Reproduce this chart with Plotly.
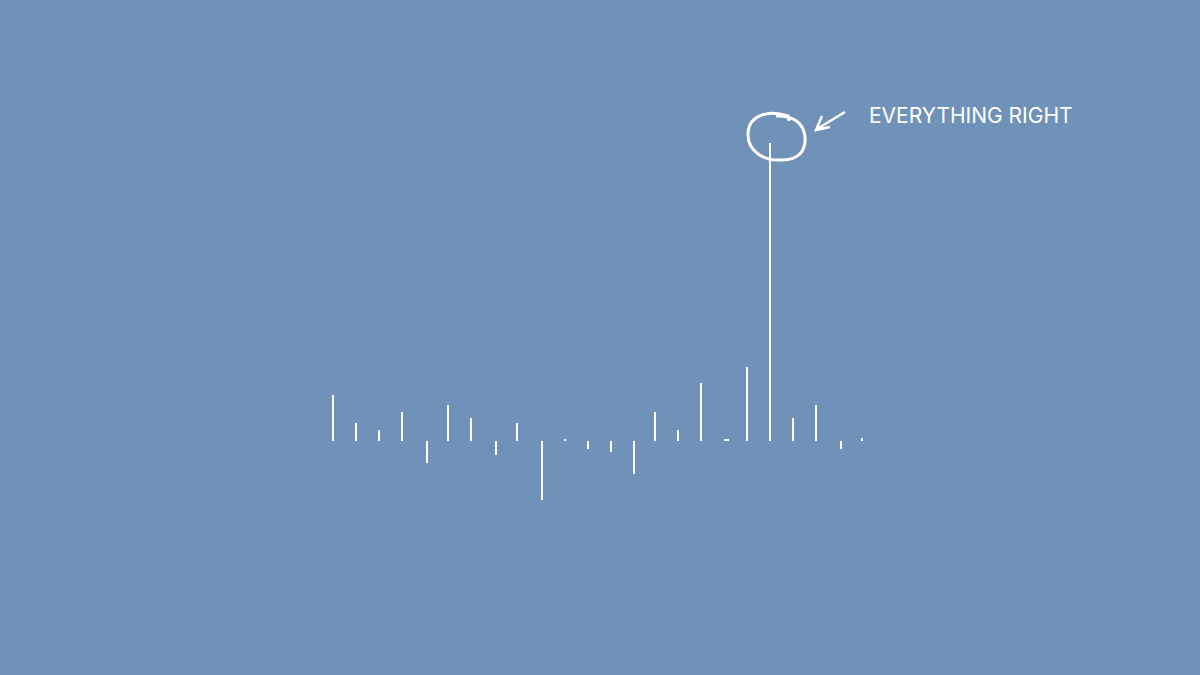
import plotly.graph_objects as go

# Data (bar heights in arbitrary units)
categories = list(range(24))
values = [45.7, 17.7, 10.7, 28.7, -22.0, 35.7, 22.7, -14.0, 17.7, -59.0, 1.7, -8.0,
          -11.0, -33.0, 28.7, 10.7, 57.7, 1.7, 73.7, 298.0, 22.7, 35.7, -8.0, 2.7]
label_text = "EVERYTHING RIGHT"

# Style: horizontal nudges (px) and widths (px) of the individual bars
bar_shift_px = [0, 0, 0, 0, 2, 0, 0, 2, 0, 2, 2, 2,
                2, 2, 0, 0, 0, 2.5, 0, 0, 0, 0, 2, 0]
bar_width_px = [2] * 17 + [5] + [2] * 6

W, H = 1200, 675
BG = "#7192B8"
UNIT = 23.0  # px per category

widths = [w / UNIT for w in bar_width_px]
offsets = [s / UNIT - w / 2 for s, w in zip(bar_shift_px, widths)]

fig = go.Figure()
fig.add_trace(go.Bar(
    x=categories, y=values, width=widths, offset=offsets,
    marker=dict(color="white", line=dict(width=0)),
    hoverinfo="x+y",
))

def px(x, y):
    return x / W, 1 - y / H

def path(cmds):
    out = []
    for c in cmds:
        if isinstance(c, str):
            out.append(c)
        else:
            xp, yp = px(*c)
            out.append(f"{xp:.5f},{yp:.5f}")
    return " ".join(out)

# hand-drawn circle around the tallest bar
circle = path([
    "M", (789, 121), "L", (788, 116),
    "C", (770, 110), (749, 114), (748, 133),
    "C", (747, 152), (765, 161), (781, 160),
    "C", (801, 160), (806, 149), (805, 136),
    "C", (803, 121), (790, 115), (776, 116),
])
arrow = path([
    "M", (845, 112), "L", (817, 129),
    "M", (822, 116), "L", (816, 130), "L", (830, 127),
])

shapes = [
    dict(type="path", xref="paper", yref="paper", path=circle,
         line=dict(color="white", width=3)),
    dict(type="path", xref="paper", yref="paper", path=arrow,
         line=dict(color="white", width=2.5)),
]

x0 = -333 / UNIT
fig.update_layout(
    width=W, height=H,
    margin=dict(l=0, r=0, t=0, b=0),
    paper_bgcolor=BG, plot_bgcolor=BG,
    showlegend=False,
    bargap=0,
    xaxis=dict(visible=False, range=[x0, x0 + W / UNIT], fixedrange=True),
    yaxis=dict(visible=False, range=[-(H - 440.7), 440.7], fixedrange=True),
    shapes=shapes,
    annotations=[dict(
        xref="paper", yref="paper", x=867 / W, y=1 - 116 / H,
        xanchor="left", yanchor="middle", text=label_text, showarrow=False,
        font=dict(family="Inter, Lato, sans-serif", size=21, color="white"),
    )],
)

fig.write_html("out.html")
